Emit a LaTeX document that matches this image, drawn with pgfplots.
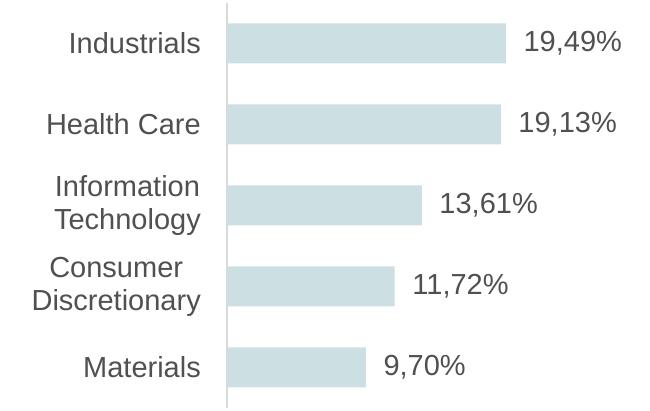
\documentclass[border=0pt]{standalone}
\usepackage{fontspec}
\setmainfont{Liberation Sans}
\usepackage{pgfplots}
\pgfplotsset{compat=1.18}
\definecolor{barfill}{HTML}{CCDFE2}
\definecolor{axisgray}{HTML}{D9D9D9}
\definecolor{txt}{HTML}{505050}

\begin{document}
\begin{tikzpicture}[x=1pt,y=1pt]
\path[use as bounding box] (0,0) rectangle (650,411);
\begin{axis}[
    at={(227pt,3pt)}, anchor=south west,
    scale only axis,
    width=429.3pt, height=405pt,
    xbar, bar width=40pt, bar shift=0pt,
    xmin=0, xmax=30,
    ymin=-0.5, ymax=4.5,
    axis x line=none,
    axis y line*=left,
    y axis line style={draw=axisgray, line width=1.5pt},
    ytick={0,1,2,3,4},
    yticklabels={Materials, Consumer\\Discretionary, Information\\Technology, Health Care, Industrials},
    major tick length=0pt,
    yticklabel style={font=\fontsize{29}{33}\selectfont, text=txt, align=center, anchor=east, inner sep=0pt, xshift=-26pt},
    point meta=explicit symbolic,
    nodes near coords,
    nodes near coords style={font=\fontsize{29}{33}\selectfont, text=txt, anchor=west, inner sep=0pt, xshift=17.5pt},
]
\addplot[fill=barfill, draw=none] coordinates {
    (9.70,0) [9,70\%]
    (11.72,1) [11,72\%]
    (13.61,2) [13,61\%]
    (19.13,3) [19,13\%]
    (19.49,4) [19,49\%]
};
\end{axis}
\end{tikzpicture}
\end{document}
